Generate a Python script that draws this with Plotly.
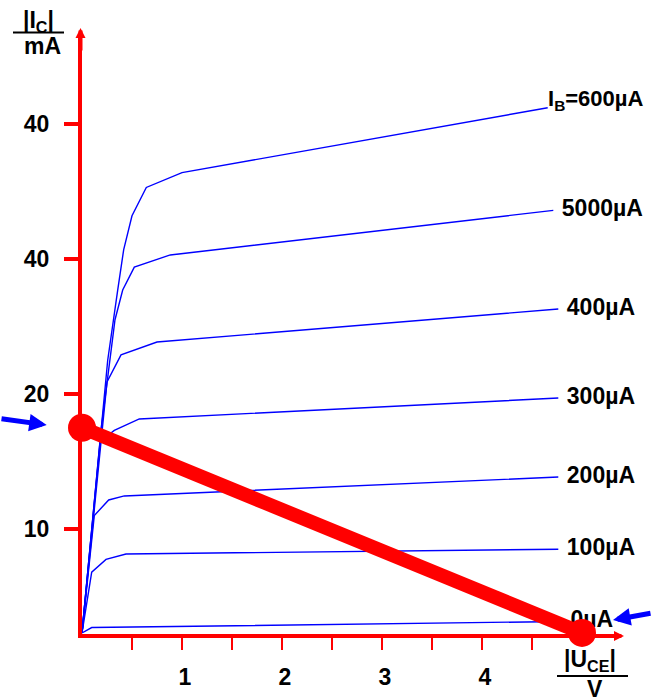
import plotly.graph_objects as go

# ---- data ----
uce_600 = [0, 0.257, 0.357, 0.417, 0.50, 0.643, 1.00, 4.657]
ic_600 = [2.3, 22.5, 27.7, 30.7, 33.2, 35.3, 36.4, 41.2]
uce_500 = [0, 0.19, 0.33, 0.407, 0.523, 0.883, 4.713]
ic_500 = [2.3, 17.3, 25.5, 27.7, 29.4, 30.3, 33.6]
uce_400 = [0, 0.25, 0.39, 0.75, 4.763]
ic_400 = [2.3, 20.9, 22.9, 23.85, 26.3]
uce_300 = [0, 0.183, 0.323, 0.573, 4.763]
ic_300 = [2.3, 16.5, 17.3, 18.15, 19.7]
uce_200 = [0, 0.123, 0.267, 0.423, 4.763]
ic_200 = [2.3, 11.0, 12.15, 12.45, 13.85]
uce_100 = [0, 0.097, 0.24, 0.44, 4.763]
ic_100 = [2.3, 6.8, 7.75, 8.15, 8.5]
uce_0 = [0, 0.097, 4.8]
ic_0 = [2.3, 2.7, 3.15]

curve_labels = ["I<sub>B</sub>=600µA", "5000µA", "400µA", "300µA", "200µA", "100µA", "0µA"]

load_uce = [0.0, 5.0]
load_ic = [17.5, 2.3]

y_tick_vals = [10, 20, 30, 40]
y_tick_text = ["10", "20", "40", "40"]
x_tick_vals = [0.5, 1.0, 1.5, 2.0, 2.5, 3.0, 3.5, 4.0, 4.5]
x_tick_text = ["", "1", "", "2", "", "3", "", "4", ""]

# ---- figure ----
W, H = 652, 699
L, R, T, B = 82, 38, 38, 65
FONT = "Liberation Sans, Arial, sans-serif"
RED = "#ff0000"
BLUE = "#0000ff"

def px2paper(px, py):
    return (px - L) / (W - L - R), (H - B - py) / (H - T - B)

curves = [(uce_600, ic_600), (uce_500, ic_500), (uce_400, ic_400), (uce_300, ic_300),
          (uce_200, ic_200), (uce_100, ic_100), (uce_0, ic_0)]

anns = []
fig = go.Figure()
for xs, ys in curves:
    fig.add_trace(go.Scatter(x=xs, y=ys, mode="lines", line=dict(color=BLUE, width=1.4),
                             hoverinfo="skip", showlegend=False))
for i, ((xs, ys), lab) in enumerate(zip(curves, curve_labels)):
    if i == 0:
        # top label sits just right of, and slightly above, the curve end
        anns.append(dict(x=xs[-1], y=ys[-1], xref="x", yref="y", text=lab, showarrow=False,
                         xanchor="left", yanchor="middle", xshift=-2, yshift=8,
                         font=dict(family=FONT, size=22, color="black", weight="bold")))
        continue
    fig.add_trace(go.Scatter(x=[xs[-1]], y=[ys[-1]], mode="markers+text", text=[lab],
                             textposition="middle right", cliponaxis=False,
                             marker=dict(size=12, opacity=0),
                             textfont=dict(family=FONT, size=23, color="black", weight="bold"),
                             hoverinfo="skip", showlegend=False))
fig.add_trace(go.Scatter(x=load_uce, y=load_ic, mode="lines", line=dict(color=RED, width=14),
                         hoverinfo="skip", showlegend=False))
fig.add_trace(go.Scatter(x=load_uce, y=load_ic, mode="markers", cliponaxis=False,
                         marker=dict(color=RED, size=28, line=dict(width=0)),
                         hoverinfo="skip", showlegend=False))

# axis arrowheads
tx, ty = px2paper(80.5, 28)
anns.append(dict(x=tx, y=ty, xref="paper", yref="paper", ax=0, ay=24, text="", showarrow=True,
                 arrowhead=2, arrowsize=0.5, arrowwidth=4, arrowcolor=RED))
tx, ty = px2paper(624, 636)
anns.append(dict(x=tx, y=ty, xref="paper", yref="paper", ax=-24, ay=0, text="", showarrow=True,
                 arrowhead=2, arrowsize=0.5, arrowwidth=4, arrowcolor=RED))
# blue pointer arrows
tx, ty = px2paper(46.7, 425)
anns.append(dict(x=tx, y=ty, xref="paper", yref="paper", ax=-47, ay=-6.5, text="", showarrow=True,
                 arrowhead=2, arrowsize=0.7, arrowwidth=5, arrowcolor=BLUE))
tx, ty = px2paper(613, 620)
anns.append(dict(x=tx, y=ty, xref="paper", yref="paper", ax=40, ay=-7, text="", showarrow=True,
                 arrowhead=2, arrowsize=0.7, arrowwidth=5, arrowcolor=BLUE))
# axis titles
big = dict(family=FONT, size=23, color="black", weight="bold")
for txt, cx, cy in [("|I<sub>C</sub>|", 38, 21), ("mA", 42, 46), ("|U<sub>CE</sub>|", 590, 660), ("V", 595, 689)]:
    px_, py_ = px2paper(cx, cy)
    anns.append(dict(x=px_, y=py_, xref="paper", yref="paper", text=txt, showarrow=False,
                     xanchor="center", yanchor="middle", font=big))

shapes = []
for x0, x1, yy in [(13, 64, 32.5), (557, 628, 676)]:
    a0, b0 = px2paper(x0, yy)
    a1, b1 = px2paper(x1, yy)
    shapes.append(dict(type="line", xref="paper", yref="paper", x0=a0, y0=b0, x1=a1, y1=b1,
                       line=dict(color="black", width=2)))

fig.update_layout(
    width=W, height=H, margin=dict(l=L, r=R, t=T, b=B, autoexpand=False),
    paper_bgcolor="white", plot_bgcolor="white",
    showlegend=False, annotations=anns, shapes=shapes,
    xaxis=dict(range=[0, 5.32], showgrid=False, zeroline=False, showline=True, automargin=False,
               linecolor=RED, linewidth=4, ticks="outside", ticklen=12, tickwidth=1.5,
               tickcolor=RED, tickmode="array", tickvals=x_tick_vals, ticktext=x_tick_text,
               tickfont=dict(family=FONT, size=23, color="black", weight="bold"),
               ticklabelstandoff=7, ticklabelshift=3, fixedrange=True),
    yaxis=dict(range=[(664 - 634) / 13.5, (664 - 38) / 13.5], showgrid=False, zeroline=False,
               showline=True, automargin=False, linecolor=RED, linewidth=4, ticks="outside",
               ticklen=14, tickwidth=4, tickcolor=RED, tickmode="array", tickvals=y_tick_vals,
               ticktext=y_tick_text,
               tickfont=dict(family=FONT, size=23, color="black", weight="bold"),
               ticklabelstandoff=10, fixedrange=True),
)

fig.write_html("out.html")
